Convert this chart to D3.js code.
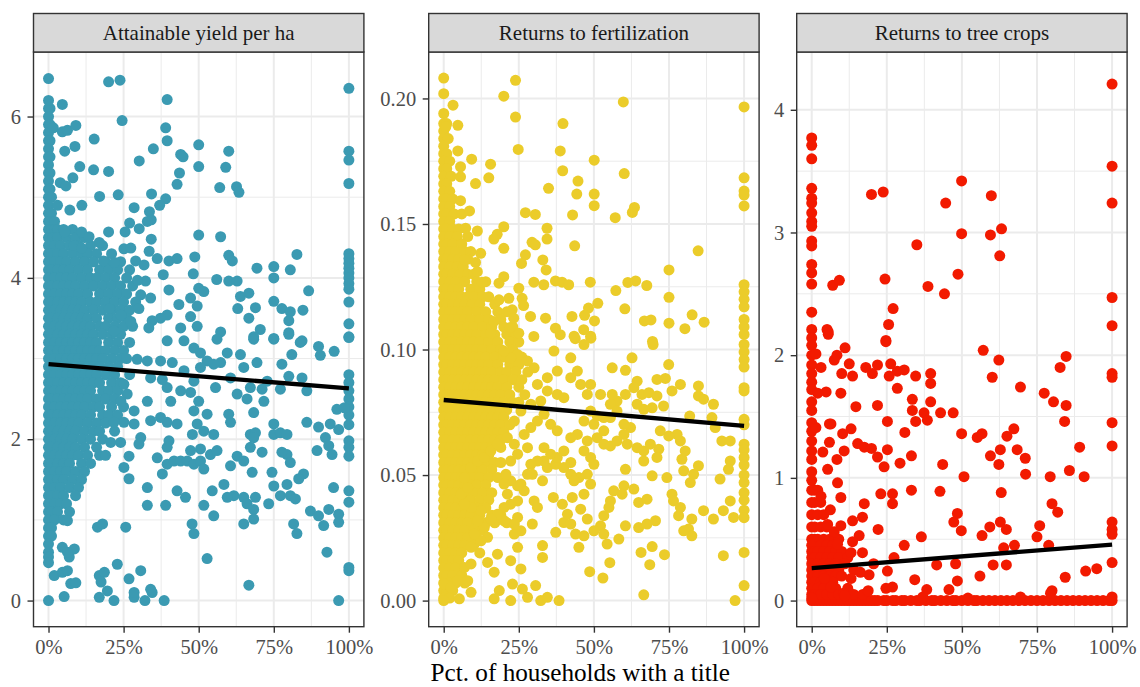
<!DOCTYPE html>
<html>
<head>
<meta charset="utf-8">
<script src="https://cdn.jsdelivr.net/npm/d3@7"></script>
<style>
  body { margin: 0; background: #fff; }
  svg { display: block; font-family: "Liberation Serif", "Times New Roman", serif; }
</style>
</head>
<body>
<svg id="chart" width="1140" height="687"></svg>
<script>
// facet titles + axis stuff
const facetNames = ['Attainable yield per ha', 'Returns to fertilization', 'Returns to tree crops'];
const xTicks = [0, 25, 50, 75, 100];
const xMinor = [12.5, 37.5, 62.5, 87.5];
const xTitle = 'Pct. of households with a title';
const yTicksYield = [0, 2, 4, 6];
const yTicksFert = [0, 0.05, 0.10, 0.15, 0.20];
const yTicksTree = [0, 1, 2, 3, 4];
const yMinorYield = [1, 3, 5];
const yMinorFert = [0.025, 0.075, 0.125, 0.175];
const yMinorTree = [0.5, 1.5, 2.5, 3.5];
const yLimYield = [-0.324, 6.80];
const yLimFert = [-0.0104, 0.2185];
const yLimTree = [-0.213, 4.471];
const colours = ['#3B9AB2', '#EBCC2A', '#F21A00'];

// fitted lines (value at 0% and at 100%)
const trendYield = [2.93, 2.63];
const trendFert = [0.0799, 0.0696];
const trendTree = [0.264, 0.456];

// ---- Attainable yield per ha: [pct titled, value]
const yieldPts = [
  [0,6.47],[20,6.43],[23.8,6.45],[100,6.35],[0,6.2],[4.6,6.15],[39.5,6.21],[24.5,5.95],[1.6,5.86],[39,5.86],
  [4.6,5.81],[6.3,5.83],[9.1,5.89],[15.2,5.72],[39.5,5.7],[50,5.65],[60,5.57],[100,5.57],[100,5.46],[5.4,5.57],
  [8.8,5.63],[34.9,5.6],[44,5.53],[44.8,5.5],[30.2,5.45],[50,5.38],[59,5.37],[10.4,5.38],[15,5.34],[20,5.32],
  [43.6,5.3],[8.1,5.24],[100,5.17],[3.9,5.18],[5.8,5.14],[42.8,5.16],[57,5.12],[62.6,5.13],[63.4,5.06],[3,4.9],
  [17,5.01],[23.2,5.03],[34.3,5.04],[39,4.98],[37,4.9],[7.1,4.84],[11.1,4.9],[28.5,4.87],[33.6,4.82],[34.2,4.72],
  [32.9,4.7],[27,4.68],[30.2,4.61],[25.5,4.57],[5.4,4.57],[11,4.57],[13.5,4.51],[16.9,4.44],[20,4.57],[50,4.53],
  [57.3,4.51],[34.2,4.48],[8.5,4.4],[11,4.37],[25.1,4.36],[27.4,4.37],[33.5,4.33],[36.2,4.24],[31.8,4.16],[48.7,4.26],
  [60,4.28],[61.2,4.21],[82.7,4.29],[100,4.3],[100,4.24],[100,4.18],[100,4.12],[100,4.06],[100,4.0],[100,3.93],
  [100,3.86],[40.1,4.21],[42.8,4.24],[69.4,4.12],[75,4.14],[75,4.0],[80.5,4.1],[18.3,4.21],[22,4.19],[29,4.21],
  [48.2,4.05],[56,3.98],[38.2,4.04],[60,3.96],[62.8,3.96],[32.3,3.96],[29.6,3.97],[40.1,3.85],[50,3.87],[51.7,3.83],
  [86.6,3.84],[63.9,3.77],[66.7,3.81],[68.9,3.63],[63,3.62],[75,3.71],[77.7,3.62],[80.5,3.58],[84.7,3.6],[80,3.47],
  [66.7,3.5],[70.5,3.36],[75,3.25],[68.3,3.27],[80,3.32],[84.4,3.22],[100,3.7],[100,3.43],[100,3.27],[57.3,3.33],
  [47.3,3.75],[49.5,3.65],[47.3,3.52],[49.5,3.4],[44,3.38],[43.4,3.67],[39.5,3.54],[37.3,3.5],[34.5,3.47],[33.4,3.38],
  [30.7,3.79],[34,3.75],[30.1,3.62],[20.2,3.62],[24.1,3.54],[27.4,3.46],[21.8,3.34]
];
const yieldPtsLow = [
  [100,3.26],[100,2.8],[100,2.7],[100,2.6],[100,2.5],[100,2.4],[100,2.3],[100,2.18],[100,1.98],[100,1.9],
  [100,1.79],[100,1.36],[100,1.22],[100,0.41],[100,0.37],[96.6,0],[95.1,3.09],[89.9,3.15],[90.5,3.04],[83.8,3.2],
  [81,3.05],[77.7,2.93],[80,2.78],[84.4,2.76],[86,2.6],[75,3.24],[80,3.3],[68.3,3.24],[69.4,2.95],[65,2.89],
  [63.9,3.05],[60.6,2.76],[72.8,2.72],[71.1,2.62],[71.7,2.47],[68.3,2.33],[67.2,2.64],[66.1,2.5],[62.8,2.56],[77.2,2.62],
  [59.5,3.07],[57.3,2.95],[55,2.93],[55.6,2.64],[52.8,2.97],[50.6,3.07],[50.6,2.89],[48.4,2.72],[47.3,2.58],[50,2.47],
  [52.8,2.31],[60,2.31],[60.6,2.21],[67.2,2.06],[68.9,2.08],[75,2.19],[75,2.06],[77.2,2.08],[79.4,2.06],[86,2.21],
  [89.9,2.15],[93.8,2.19],[96.6,2.12],[96,2.37],[98.5,2.39],[92.2,2.02],[93.3,1.92],[89.4,1.86],[94.4,1.81],[84.9,1.57],
  [83.3,1.51],[79.4,1.81],[80.5,1.71],[77.7,1.84],[79.4,1.44],[75,1.42],[74.4,1.59],[71.1,1.84],[68.3,2.02],[67.2,1.9],
  [67.8,1.59],[62.8,1.79],[60.6,1.67],[65,1.73],[61.7,1.3],[65,1.28],[66.1,1.2],[68.9,1.28],[73.3,1.2],[77.2,1.3],
  [80.5,1.3],[82.2,1.26],[68.3,1.13],[68.3,1.01],[65,0.95],[81.6,0.95],[82.7,0.83],[87.2,1.11],[89.9,1.05],[91.6,0.93],
  [93.3,1.13],[96.6,1.07],[96.6,0.97],[94.9,1.4],[92.7,0.6],[58.4,1.44],[54.5,1.36],[51.7,1.18],[55,1.05],[59.5,1.28],
  [47.8,0.95],[48.4,0.83],[52.8,0.52],[66.7,0.19],[45.6,1.28],[42.8,1.36],[37.9,1.57],[39.5,1.69],[41.8,1.73],[44,1.73],
  [46.2,1.73],[48.4,1.69],[50.6,1.73],[51.7,1.63],[47.3,1.86],[50.6,1.88],[53.9,1.81],[56.1,1.86],[32.9,1.4],[32.9,1.18],
  [39,1.18],[36.2,1.77],[39.5,1.9],[40.1,1.98],[47.9,2.06],[51.7,2.1],[55,2.06],[49.5,2.19],[48.4,2.35],[42.8,2.19],
  [39.5,2.21],[37.3,2.27],[34,2.23],[30.7,2.02],[30.1,1.94],[28.5,2.19],[25.1,2.21],[21.8,2.21],[20.7,1.96],[24,1.96],
  [26.8,1.79],[25.1,1.65],[26.8,1.51],[28.5,2.35],[26.2,2.56],[24.1,2.47],[25.1,2.68],[40.7,2.47],[39.5,2.64],[37.9,2.74],
  [44,2.6],[45.1,2.85],[41.2,2.95],[34,2.76],[32.9,2.97],[29.5,2.99],[32.9,2.47],[45.1,3.22],[48.4,3.13],[56.1,3.24],
  [39.5,3.22],[37.3,2.97],[0,0],[5.2,0.05],[16.9,0.04],[21.8,0],[28.5,0.04],[28.5,0.1],[32.1,0],[34.5,0.1],
  [34,0.14],[38.5,0],[19.6,0.12],[26.8,0.27],[30.7,0.37],[22.9,0.45],[16.9,0.31],[18.6,0.35],[17.5,0.23],[7.4,0.21],
  [9.1,0.22],[1.9,0.31],[4.6,0.35],[6.3,0.37],[0,0.54],[6.9,0.54],[8.6,0.64],[4.6,0.66],[6.3,0.6],[6.3,0.99],
  [16.3,0.91],[18,0.95],[25.7,0.91],[0,0.47]
];
// crowded block near 0%: [value, [pct, ...]]
const yieldCrowd = [
  [6.1,[0,0.5]],[6.0,[0]],[5.9,[0,0.5]],[5.8,[0]],[5.7,[0,0.5]],[5.6,[0]],[5.5,[0,0.5]],[5.4,[0]],[5.3,[0,0.5]],
  [5.2,[0]],[5.1,[0,0.5]],[5.0,[0,1]],[4.9,[0]],[4.8,[0,1]],[4.7,[0,0.5,2]],
  [4.6,[0,1,2,3,5,8]],[4.5,[0,1.5,3,6,9,12]],[4.4,[0,2,4,7,10,14,18]],[4.3,[0,1,3,5,8,11,13,16,21]],
  [4.2,[0,2,4,6,9,12,15,19,24]],[4.1,[0,1,3,5,7,10,13,17,20,23,27]],[4.0,[0,2,4,6,8,11,14,16,19,22,26]],
  [3.9,[0,1,3,5,7,9,12,15,18,21,24,28]],[3.8,[0,2,4,6,8,10,13,17,20,23,26]],[3.7,[0,1,3,5,7,9,11,14,16,19,22,25,29]],
  [3.6,[0,2,4,6,8,10,12,15,18,21,24,27]],[3.5,[0,1,3,5,7,9,11,13,16,20,23,26]],[3.4,[0,2,4,6,8,10,12,14,17,19,22,25,28]],
  [3.3,[0,1,3,5,7,9,11,13,15,18,21,24]],[3.2,[0,2,4,6,8,10,12,14,16,20,23,27]],[3.1,[0,1,3,5,7,9,11,13,15,17,19,22,25]],
  [3.0,[0,2,4,6,8,10,12,14,16,18,21,24,26]],[2.9,[0,1,3,5,7,9,11,13,15,17,20,23]],[2.8,[0,2,4,6,8,10,12,14,16,19,22,27]],
  [2.7,[0,1,3,5,7,9,11,13,15,17,21,24]],[2.6,[0,2,4,6,8,10,12,14,18,20,23]],[2.5,[0,1,3,5,7,9,11,13,16,19,22]],
  [2.4,[0,2,4,6,8,10,12,15,17,21,25]],[2.3,[0,1,3,5,7,9,11,14,18,20,23]],[2.2,[0,2,4,6,8,10,13,16,19]],
  [2.1,[0,1,3,5,7,9,12,15,17,22]],[2.0,[0,2,4,6,8,11,14,18]],[1.9,[0,1,3,5,7,9,12,16]],[1.8,[0,2,4,6,8,10,13,17,19]],
  [1.7,[0,1,3,5,7,11,14]],[1.6,[0,2,4,6,9,12]],[1.5,[0,1,3,5,8,11]],[1.4,[0,2,4,7,10]],[1.3,[0,1,3,5,9]],
  [1.2,[0,2,4,6]],[1.1,[0,1,3,7]],[1.0,[0,2,5]],[0.9,[0,1]],[0.8,[0,1]],[0.7,[0]],[0.6,[0]]
];

// ---- Returns to fertilization
const fertPts = [
  [0,0.2081],[0,0.2019],[23.9,0.2072],[20,0.2009],[3.1,0.1973],[59.8,0.1986],[100,0.1966],[0,0.194],[23.9,0.1926],[4.7,0.1893],
  [0.7,0.1887],[39.7,0.19],[24.8,0.1797],[38.8,0.1791],[50.1,0.1754],[4.7,0.1791],[9.3,0.1758],[15.6,0.1738],[5.6,0.1728],[5.6,0.1688],
  [15,0.1684],[10.6,0.1661],[39.6,0.1712],[60.1,0.1701],[34.9,0.1642],[44.7,0.1671],[44.3,0.1619],[50.1,0.1619],[50.1,0.1573],[100,0.1684],
  [100,0.1631],[100,0.1615],[100,0.1572],[63.5,0.1566],[62.8,0.1546],[57.1,0.1525],[42.9,0.1536],[27.2,0.1545],[30.5,0.1538],[5.6,0.1593],
  [8.6,0.1552],[7.3,0.1483],[11.2,0.1472],[20,0.1489],[17.8,0.1459],[16.7,0.144],[20,0.1403],[34.4,0.1483],[34.4,0.144],[29.4,0.1427],
  [30.5,0.1417],[43.6,0.1413],[84.7,0.1393],[12.3,0.1383],[10.6,0.1347],[7,0.1357],[27.2,0.1377],[25.9,0.1343],[33,0.1357],[34.1,0.1317],
  [11.2,0.131],[12.8,0.1268],[20,0.129],[18.4,0.1264],[75,0.1317],[30,0.1268],[33.3,0.1258],[37.2,0.1273],[39.4,0.1268],[41.6,0.1258],
  [48.8,0.1268],[61.3,0.1267],[63.9,0.1273],[67.6,0.1255],[57.3,0.1235],[100,0.1258],[100,0.123],[100,0.12],[100,0.117],[100,0.112],
  [100,0.109],[100,0.106],[75,0.1208],[60.3,0.1162],[51.3,0.1184],[48.2,0.1165],[46.9,0.1136],[50.2,0.1114],[42.7,0.1132],[46.6,0.1079],
  [49,0.1045],[66.8,0.1114],[69,0.1118],[75,0.1105],[80.3,0.1083],[82.7,0.1138],[86.7,0.1109],[69.5,0.1032],[43.8,0.1043],[38.8,0.1059],
  [37.2,0.1085],[33.9,0.1125],[28.9,0.1132],[25,0.1065],[22.2,0.1088],[30,0.1052],[18.4,0.1198],[21.7,0.1204],[26.1,0.1204],[25,0.1244],
  [26.6,0.1175],[22.8,0.1158],[23.3,0.1125],[16.7,0.1112],[15.6,0.1065]
];
const fertPtsLow = [
  [69.7,0.102],[62.7,0.0967],[56.1,0.0927],[60.5,0.0917],[74.9,0.094],[73.8,0.0885],[71,0.0881],[100,0.102],[100,0.099],[100,0.096],
  [100,0.093],[100,0.0848],[100,0.0835],[84.8,0.0855],[84.8,0.0815],[86.5,0.0802],[89.8,0.0782],[81.9,0.0735],[89.3,0.0729],[90.4,0.0689],
  [92.6,0.0636],[95.4,0.0636],[100,0.0722],[100,0.07],[100,0.0623],[100,0.06],[100,0.057],[100,0.054],[100,0.05],[100,0.047],
  [100,0.043],[100,0.04],[100,0.036],[100,0.033],[96.5,0.0331],[93.1,0.0179],[100,0.0192],[100,0.006],[97,0],[95.4,0.0556],
  [94.8,0.0523],[92,0.0484],[95.4,0.0397],[93.1,0.0358],[89.8,0.0325],[86.5,0.0358],[82.6,0.0325],[81.5,0.0285],[82.6,0.0258],[79.9,0.0278],
  [78.2,0.0338],[76,0.0424],[76.5,0.0397],[78.8,0.0371],[74.3,0.049],[82.1,0.047],[83.2,0.0503],[84.8,0.0537],[79.9,0.0517],[79.3,0.0563],
  [80.4,0.0596],[78.8,0.0636],[77.7,0.0662],[74.9,0.0656],[71.6,0.0603],[72.1,0.0676],[69.4,0.0768],[66.6,0.0762],[64.4,0.0782],[66,0.0821],
  [68.3,0.0828],[71,0.0815],[73.2,0.0775],[76,0.0835],[78.8,0.0861],[64.4,0.0874],[63.3,0.0848],[60.5,0.0821],[57.7,0.0795],[56.1,0.0821],
  [62.2,0.0689],[60,0.0662],[57.7,0.0636],[61.1,0.0623],[64.4,0.0609],[66.6,0.0596],[68.8,0.0623],[71,0.057],[66.6,0.0556],[60.5,0.0523],
  [69.4,0.0497],[60,0.0457],[63.3,0.0444],[56.6,0.0437],[59.4,0.0424],[64.9,0.0391],[67.7,0.0404],[55.5,0.0397],[55,0.0371],[53.3,0.0338],
  [52.2,0.0298],[60.5,0.0298],[64.9,0.0291],[67.7,0.0305],[70.5,0.0318],[58.3,0.0245],[54.4,0.0225],[65.7,0.0192],[69.4,0.0215],[68.6,0.0143],
  [73.5,0.0183],[66.6,0.0023],[55.3,0.0151],[53,0.009],[48.6,0.0115],[45,0.0212],[46.7,0.0258],[43.9,0.0265],[40,0.0311],[37.3,0.0272],
  [53.3,0.0265],[50,0.0278],[47.8,0.0325],[45.6,0.0364],[46.7,0.0424],[48.9,0.0464],[47.8,0.0503],[50,0.0543],[48.9,0.057],[42.8,0.0411],
  [39.5,0.0384],[36.5,0.0411],[32.9,0.0477],[34.5,0.053],[37.3,0.0543],[40,0.053],[42.3,0.055],[45,0.049],[46.7,0.0596],[47.8,0.0636],
  [51.1,0.0649],[53.3,0.0623],[55.5,0.0616],[53.3,0.0676],[50,0.0702],[51.1,0.0735],[48.9,0.0755],[46.7,0.0715],[44.5,0.0662],[42.3,0.0649],
  [40,0.0596],[37.8,0.057],[35.6,0.0583],[33.4,0.0556],[31.2,0.0556],[29,0.0543],[27.9,0.0503],[25.7,0.0464],[26.8,0.0437],[24.6,0.0397],
  [22.3,0.0384],[20.1,0.0371],[21.2,0.0424],[30.1,0.0397],[31.2,0.0371],[29.5,0.0305],[25.7,0.0278],[23.5,0.0265],[24.6,0.0212],[22.3,0.0159],
  [17.9,0.0185],[14.6,0.0152],[18.5,0.004],[16.8,0.0007],[22.3,0],[26.2,0.0046],[27.9,0.0013],[30.6,0.006],[32.3,0],[34.5,0.0013],
  [38.4,0],[32.9,0.0219],[32.9,0.0172],[25.7,0.0126],[22.9,0.0066],[24.6,0.0457],[22.3,0.0477],[20.7,0.0503],[20.1,0.0464],[22.3,0.0556],
  [24.6,0.0583],[27.9,0.0609],[23.5,0.0623],[21.2,0.0649],[23.5,0.0715],[25.7,0.0755],[29,0.0782],[32.3,0.0795],[34.5,0.0835],[37.8,0.0821],
  [40,0.0808],[31.2,0.0861],[30.1,0.0927],[27.9,0.0954],[24.6,0.098],[22.3,0.0967],[20.1,0.0994],[36.7,0.0994],[42.3,0.0967],[46.7,0.102],
  [48.9,0.1053],[43.4,0.1053],[44.5,0.0914],[42.3,0.0888],[37.8,0.0914],[34.5,0.0888],[45.6,0.0861],[47.8,0.0821],[48.9,0.0861],[52.2,0.0821],
  [55.5,0.0782],[55.5,0.0729],[53.3,0.0729],[57.7,0.0755],[60,0.0702],[26.8,0.0662],[29,0.0689],[31.2,0.0715],[33.4,0.0742],[35.6,0.0702],
  [37.8,0.0676],[33.4,0.0609],[42.3,0.0503],[43.4,0.0477],[41.2,0.0344],[42.3,0.0305],[29.5,0.0503],[24.6,0.0331],[23.5,0.0305],[20.1,0.0318],
  [17.9,0.0344],[15.7,0.0325],[13.5,0.0291],[14.6,0.0252],[12.4,0.0238],[10.2,0.0265],[9.1,0.0212],[11.3,0.0318],[12.4,0.0358],[9.1,0.0371],
  [6.9,0.0384],[5.8,0.0424],[8,0.045],[6.9,0.049],[9.1,0.053],[11.3,0.0556],[13.5,0.057],[15.7,0.0596],[17.9,0.0623],[6.9,0.0132],
  [9.1,0.0146],[8,0.0079],[9.1,0.0033],[5.2,0.0007],[0,0],[0.2,0.0066],[2.4,0.0053],[4.6,0.0079],[16.8,0.0113]
];
const fertCrowd = [
  [0.190,[0,1]],[0.187,[0]],[0.184,[0,1.5]],[0.181,[0]],[0.178,[0,1]],[0.175,[0,2]],[0.172,[0,1]],[0.169,[0,2.5]],
  [0.166,[0,1]],[0.163,[0,2]],[0.160,[0,1,3]],[0.157,[0,2]],[0.154,[0,1,3.5,6]],[0.151,[0,2]],[0.148,[0,1,3,5]],
  [0.145,[0,2,4.5,8]],[0.142,[0,1,3,6]],[0.139,[0,2,4,7,9]],[0.136,[0,1,3,5,8]],[0.133,[0,2,4.5,6.5]],
  [0.130,[0,1,3,5.5,8,10]],[0.127,[0,2,4,7,11,14]],[0.124,[0,1,3,5,9,12]],[0.121,[0,2,4,6,8,10,13,15]],
  [0.118,[0,1,3,5,7,9.5,12,17]],[0.115,[0,2,4,6,8,11,14,18,21]],[0.112,[0,1,3,5,7,9,12,15,19]],
  [0.109,[0,2,4,6,8,10,13,16,20,23]],[0.106,[0,1,3,5,7,9,11,14,17,21,24]],[0.103,[0,2,4,6,8,10,12,15,18,22,25]],
  [0.100,[0,1,3,5,7,9,11,13,16,19,23]],[0.097,[0,2,4,6,8,10,12,14,17,20,24,26]],[0.094,[0,1,3,5,7,9,11,13,15,18,22,25]],
  [0.091,[0,2,4,6,8,10,12,14,16,19,21,24,28]],[0.088,[0,1,3,5,7,9,11,13,15,17,20,23,26]],[0.085,[0,2,4,6,8,10,12,14,16,18,21,25]],
  [0.082,[0,1,3,5,7,9,11,13,15,17,19,22,27]],[0.079,[0,2,4,6,8,10,12,14,16,18,20,23,25]],[0.076,[0,1,3,5,7,9,11,13,15,17,19,21]],
  [0.073,[0,2,4,6,8,10,12,14,16,18,20]],[0.070,[0,1,3,5,7,9,11,13,15,17,19,22]],[0.067,[0,2,4,6,8,10,12,14,16,18,20]],
  [0.064,[0,1,3,5,7,9,11,13,15,17,19]],[0.061,[0,2,4,6,8,10,12,14,16,19]],[0.058,[0,1,3,5,7,9,11,13,15]],
  [0.055,[0,2,4,6,8,10,12,14,17,19]],[0.052,[0,1,3,5,7,9,11,13,16]],[0.049,[0,2,4,6,8,10,12,15,18]],
  [0.046,[0,1,3,5,7,9,11,14]],[0.043,[0,2,4,6,8,10,13,16]],[0.040,[0,1,3,5,7,9,12,15]],[0.037,[0,2,4,6,8,11,14]],
  [0.034,[0,1,3,5,7,9,12,16,19]],[0.031,[0,2,4,6,8,11,14,17,21]],[0.028,[0,1,3,5,7,10,13]],[0.025,[0,2,4,6,8,11]],
  [0.022,[0,1,3,5,7,10]],[0.019,[0,2,4,6,12]],[0.016,[0,1,3,5]],[0.013,[0,2,4]],[0.010,[0,1,3,6]],
  [0.007,[0,2,4,7]],[0.004,[0,1,3]],[0.001,[0,2]]
];

// ---- Returns to tree crops
const treePts = [
  [100,4.21],[100,3.54],[100,3.24],[100,2.47],[100,2.24],[0,3.77],[0,3.71],[0,3.6],[0,3.36],[0,3.28],
  [0,3.24],[0,3.16],[0,3.09],[0,3.05],[0,2.93],[0,2.89],[0,2.74],[0,2.67],[0,2.58],[0,2.35],
  [0,2.21],[0,2.14],[19.9,3.31],[23.8,3.33],[49.9,3.42],[44.6,3.24],[59.8,3.3],[63.2,3.03],[59.5,2.98],[49.9,2.99],
  [62.6,2.81],[35,2.9],[48.7,2.66],[38.7,2.56],[44.2,2.5],[24.4,2.62],[7,2.57],[9.2,2.61],[27.1,2.38],[25.6,2.25],
  [24.7,2.12],[5.1,2.21],[5.5,2.19],[0,2.08],[0,2.0],[0,1.92],[0,1.85],[0,1.78],[0,1.72],[0,1.62],
  [0,1.55],[0,1.45],[0,1.38],[0,1.3],[0,1.22],[0,1.15],[0,1.05],[0,0.98],[5.5,2.17],[24.7,2.11],
  [11.1,2.06],[8.4,2.0],[7.5,1.96],[12.5,1.93],[10,1.85],[13.6,1.83],[18,1.9],[20.2,1.85],[21.9,1.92],[26.3,1.93],
  [25.8,1.83],[28.5,1.87],[30.8,1.88],[34.6,1.83],[39.6,1.85],[39.6,1.77],[1.4,2.01],[3.1,1.9],[4.8,1.7],[2,1.69],
  [9.7,1.69],[14.7,1.58],[21.9,1.59],[28.5,1.73],[57.1,2.04],[62.3,1.96],[60.1,1.82],[69.5,1.74],[84.7,1.99],[82.7,1.9],
  [77.4,1.69],[80.5,1.62],[84.7,1.59],[100,1.85],[100,1.82],[33.5,1.64],[33.5,1.55],[37.4,1.53],[39.6,1.62],[42.9,1.53],
  [47.1,1.53],[38.5,1.47],[34.6,1.46],[25.2,1.46],[31,1.37],[13.1,1.4],[10.3,1.36],[6.4,1.44],[49.9,1.36],[55.1,1.33],
  [56.7,1.36],[65,1.34],[67.3,1.4],[62.8,1.23],[59.5,1.18],[62.3,1.11],[68.4,1.23],[71.1,1.16],[71.2,1.03],[79.4,1.01],
  [85.8,1.06],[90.7,1.01],[89.2,1.25],[100,1.45],[100,1.26],[84.2,1.46],[43.6,1.11],[50.7,1.01],[42.7,0.89],[33.2,0.9],
  [33.2,1.18],[29.4,1.12],[24.1,1.09],[63.1,0.88],[15.3,1.28],[17.5,1.25],[19.9,1.24],[21.9,1.17],[25.2,1.23],[10.8,1.22],
  [8.4,1.15],[5.3,1.07],[1.4,1.41],[5.9,1.29],[3.7,1.21],[5.9,1.44],[8.6,0.96],[3.1,0.85],[9.7,0.84],[6.2,0.74],
  [17.5,0.79],[23,0.87],[26.9,0.87],[26.9,0.79],[48.5,0.71],[47.3,0.64],[49.8,0.57],[59.3,0.6],[62.8,0.64],[64.8,0.58],
  [56.7,0.53],[75.9,0.61],[75,0.52],[80,0.79],[81.9,0.72],[100,0.64],[100,0.58],[100,0.54],[36.5,0.52],[30.8,0.45],
  [22.1,0.58],[16.9,0.68],[13.6,0.65],[9.7,0.61],[7.5,0.56],[5.3,0.62],[15.8,0.53],[13.6,0.48],[8.6,0.46],[16.9,0.39],
  [13.1,0.39],[63.9,0.43],[67.5,0.45],[78.9,0.45],[60.4,0.29],[64.8,0.29],[41.6,0.29],[47.9,0.3],[56,0.2],[48.5,0.16],
  [34.3,0.17],[84.4,0.19],[91.2,0.24],[94.9,0.26],[100,0.31],[45.7,0.09],[38.3,0.09],[80,0.08],[25.2,0.24],[27.4,0.35],
  [20.6,0.3],[19.1,0.21],[16.2,0.23],[13.1,0.18],[24.7,0.1],[26.9,0.11],[18.8,0.08],[10.6,0.06],[6.4,0.11],[4.2,0.18],
  [37,0.03],[52,0.02],[69.5,0.03],[79.5,0.06],[100,0.03],[11,0.04],[0,0.02]
];
// households with no tree-crop return, by pct titled
const treeZeros = [
  0,1,2,3,4,5,6,7,8,9,10,11,12,13,14,15,16,17,18,19,20,21,22,24,25,27,28,30,31,33,35,36,38,40,41,43,45,47,48,
  50,52,54,55,57,59,61,63,65,67,69,71,73,75,77,79,81,83,85,87,89,91,93,95,97,99,100
];
const treeCrowd = [
  [0.9,[0,1,2]],[0.8,[0,1,3]],[0.7,[0,2,4]],[0.6,[0,1,3,5]],[0.5,[0,1,2,4,6,9]],[0.45,[0,3,5,7]],
  [0.4,[0,1,2,4,6,8,10]],[0.35,[0,1,3,5,7,9,12]],[0.3,[0,2,4,6,8,11]],[0.25,[0,1,3,5,7,9,14]],
  [0.2,[0,2,4,6,8,10]],[0.15,[0,1,3,5,7]],[0.1,[0,2,4,8,12]],[0.05,[0,1,3,5,7,9,14,17]]
];

function unpack(rows) {
  const out = [];
  rows.forEach(r => r[1].forEach(p => out.push([p, r[0]])));
  return out;
}

const panels = [
  {name: facetNames[0], colour: colours[0], pts: unpack(yieldCrowd).concat(yieldPts, yieldPtsLow),
   yLim: yLimYield, yTicks: yTicksYield, yMinor: yMinorYield, trend: trendYield, fmt: d3.format('d'), left: 33.5},
  {name: facetNames[1], colour: colours[1], pts: unpack(fertCrowd).concat(fertPts, fertPtsLow),
   yLim: yLimFert, yTicks: yTicksFert, yMinor: yMinorFert, trend: trendFert, fmt: d3.format('.2f'), left: 428.7},
  {name: facetNames[2], colour: colours[2], pts: treeZeros.map(p => [p, 0]).concat(unpack(treeCrowd), treePts),
   yLim: yLimTree, yTicks: yTicksTree, yMinor: yMinorTree, trend: trendTree, fmt: d3.format('d'), left: 796.7}
];

const serif = '"Liberation Serif", "Times New Roman", serif';
const svg = d3.select('#chart');
const panelW = 330.4, panelTop = 52, panelBottom = 626.7, stripTop = 13.5;

panels.forEach(function (p, i) {
  const x = d3.scaleLinear().domain([-5, 105]).range([p.left, p.left + panelW]);
  const y = d3.scaleLinear().domain(p.yLim).range([panelBottom, panelTop]);
  const g = svg.append('g');

  g.append('clipPath').attr('id', 'clip' + i)
    .append('rect').attr('x', p.left).attr('y', panelTop).attr('width', panelW).attr('height', panelBottom - panelTop);

  // grid
  const grid = g.append('g');
  grid.selectAll('.vminor').data(xMinor).enter().append('line')
    .attr('x1', d => x(d)).attr('x2', d => x(d)).attr('y1', panelTop).attr('y2', panelBottom)
    .attr('stroke', '#EBEBEB').attr('stroke-width', 1);
  grid.selectAll('.hminor').data(p.yMinor).enter().append('line')
    .attr('x1', p.left).attr('x2', p.left + panelW).attr('y1', d => y(d)).attr('y2', d => y(d))
    .attr('stroke', '#EBEBEB').attr('stroke-width', 1);
  grid.selectAll('.vmajor').data(xTicks).enter().append('line')
    .attr('x1', d => x(d)).attr('x2', d => x(d)).attr('y1', panelTop).attr('y2', panelBottom)
    .attr('stroke', '#EBEBEB').attr('stroke-width', 2);
  grid.selectAll('.hmajor').data(p.yTicks).enter().append('line')
    .attr('x1', p.left).attr('x2', p.left + panelW).attr('y1', d => y(d)).attr('y2', d => y(d))
    .attr('stroke', '#EBEBEB').attr('stroke-width', 2);

  const plot = g.append('g').attr('clip-path', 'url(#clip' + i + ')');
  plot.selectAll('circle').data(p.pts).enter().append('circle')
    .attr('cx', d => x(d[0])).attr('cy', d => y(d[1])).attr('r', 5.5)
    .attr('fill', p.colour);

  plot.append('line')
    .attr('x1', x(0)).attr('y1', y(p.trend[0]))
    .attr('x2', x(100)).attr('y2', y(p.trend[1]))
    .attr('stroke', '#000').attr('stroke-width', 4.3);

  // border
  g.append('rect').attr('x', p.left).attr('y', panelTop).attr('width', panelW).attr('height', panelBottom - panelTop)
    .attr('fill', 'none').attr('stroke', '#333333').attr('stroke-width', 1.4);

  // strip
  g.append('rect').attr('x', p.left).attr('y', stripTop).attr('width', panelW).attr('height', panelTop - stripTop)
    .attr('fill', '#D9D9D9').attr('stroke', '#333333').attr('stroke-width', 1.4);
  g.append('text').attr('x', p.left + panelW / 2).attr('y', (stripTop + panelTop) / 2)
    .attr('dy', '0.33em').attr('text-anchor', 'middle')
    .style('font-family', serif).style('font-size', '21px').attr('fill', '#1A1A1A').text(p.name);

  // axes
  const ax = g.append('g').attr('transform', 'translate(0,' + panelBottom + ')')
    .call(d3.axisBottom(x).tickValues(xTicks).tickSize(6).tickPadding(6.5).tickFormat(d => d + '%'));
  const ay = g.append('g').attr('transform', 'translate(' + p.left + ',0)')
    .call(d3.axisLeft(y).tickValues(p.yTicks).tickSize(6).tickPadding(6.5).tickFormat(p.fmt));
  [ax, ay].forEach(function (a) {
    a.select('.domain').remove();
    a.selectAll('line').attr('stroke', '#333333').attr('stroke-width', 1.4);
    a.selectAll('text').attr('fill', '#4D4D4D')
      .style('font-family', serif).style('font-size', '20.5px');
  });
});

svg.append('text')
  .attr('x', (33.5 + 796.7 + panelW) / 2).attr('y', 681)
  .attr('text-anchor', 'middle').attr('fill', '#000')
  .style('font-family', serif).style('font-size', '25.2px')
  .text(xTitle);
</script>
</body>
</html>
